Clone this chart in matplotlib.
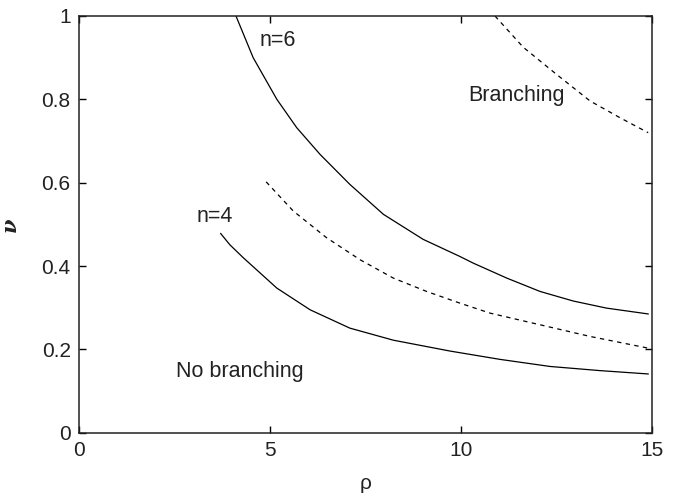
import matplotlib.pyplot as plt

plt.rcParams['font.family'] = ['Liberation Sans', 'DejaVu Sans']

# curves (rho, nu)
n4_rho = [3.71, 3.95, 4.30, 5.18, 6.05, 7.09, 8.23, 9.71, 11.02, 12.33, 13.64, 14.9]
n4_nu = [0.478, 0.451, 0.420, 0.347, 0.295, 0.251, 0.222, 0.196, 0.176, 0.159, 0.149, 0.141]

mid_rho = [4.90, 5.61, 6.48, 7.36, 8.23, 9.10, 9.97, 10.76, 12.07, 13.38, 14.9]
mid_nu = [0.602, 0.532, 0.468, 0.415, 0.371, 0.339, 0.311, 0.287, 0.259, 0.231, 0.203]

n6_rho = [4.11, 4.56, 5.18, 5.70, 6.31, 7.09, 7.97, 9.01, 9.97, 10.32, 11.20, 12.07, 12.94, 13.81, 14.9]
n6_nu = [1.0, 0.900, 0.800, 0.732, 0.668, 0.596, 0.524, 0.464, 0.423, 0.407, 0.371, 0.339, 0.316, 0.299, 0.285]

top_rho = [10.89, 11.63, 12.50, 13.38, 14.16, 14.9]
top_nu = [1.0, 0.925, 0.860, 0.796, 0.756, 0.720]

fig = plt.figure(figsize=(6.79, 4.98), dpi=100)
ax = fig.add_axes([0.1163, 0.1311, 0.8439, 0.8368])

line_kw = dict(color='black', lw=0.9, solid_joinstyle='round', dash_joinstyle='round')
ax.plot(n4_rho, n4_nu, **line_kw)
ax.plot(mid_rho, mid_nu, linestyle=(0, (3.5, 3.5)), **line_kw)
ax.plot(n6_rho, n6_nu, **line_kw)
ax.plot(top_rho, top_nu, linestyle=(0, (3.5, 3.5)), **line_kw)

ax.text(5.2, 0.94, 'n=6', fontsize=15.5, ha='center', va='center', color='#222222')
ax.text(3.56, 0.52, 'n=4', fontsize=15.5, ha='center', va='center', color='#222222')
ax.text(11.46, 0.808, 'Branching', fontsize=15.5, ha='center', va='center', color='#222222')
ax.text(4.21, 0.146, 'No branching', fontsize=15.5, ha='center', va='center', color='#222222')

ax.set_xlim(0, 15)
ax.set_ylim(0, 1)
ax.set_xticks([0, 5, 10, 15])
ax.set_yticks([0, 0.2, 0.4, 0.6, 0.8, 1])
ax.set_yticklabels(['0', '0.2', '0.4', '0.6', '0.8', '1'])
ax.tick_params(direction='in', top=True, right=True, length=5, width=1,
               labelsize=15, labelcolor='#222222', pad=6)
for s in ax.spines.values():
    s.set_linewidth(1.1)
    s.set_color('#222222')

ax.set_xlabel('ρ', fontsize=15, color='#222222')
ax.xaxis.set_label_coords(0.5, -0.1)
ax.set_ylabel('ν', fontsize=15, fontstyle='italic', fontweight='bold',
              family=['DejaVu Serif'], color='#222222')
ax.yaxis.set_label_coords(-0.103, 0.5)

fig.savefig('out.png', dpi=100)
